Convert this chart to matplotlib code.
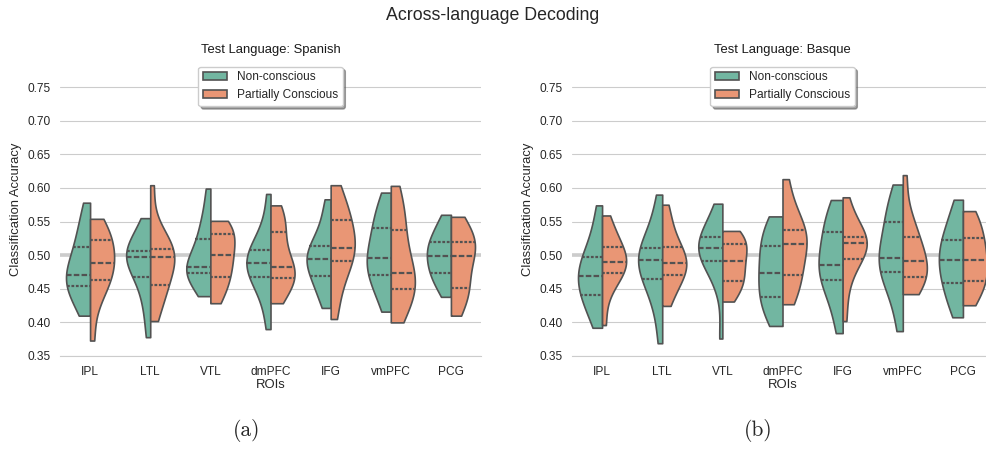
import matplotlib
matplotlib.use("Agg")
import matplotlib.pyplot as plt
from matplotlib.patches import Patch
import pandas as pd
import seaborn as sns

ROIS = ["IPL", "LTL", "VTL", "dmPFC", "IFG", "vmPFC", "PCG"]
CONDITIONS = ["Non-conscious", "Partially Conscious"]

# per-subject accuracies, one list per ROI (same order as ROIS)
spanish_nc = [
    [.410, .425, .445, .454, .460, .466, .471, .485, .500, .512, .530, .550, .578],
    [.378, .420, .445, .467, .480, .492, .4975, .500, .504, .5065, .520, .535, .555],
    [.439, .455, .468, .4737, .477, .480, .4831, .490, .510, .5233, .540, .560, .599],
    [.390, .430, .455, .467, .475, .482, .4886, .495, .502, .507, .520, .545, .591],
    [.4215, .440, .455, .469, .480, .489, .4945, .500, .508, .513, .530, .555, .583],
    [.416, .440, .460, .471, .480, .490, .496, .510, .525, .541, .555, .570, .593],
    [.438, .455, .466, .473, .482, .492, .499, .508, .515, .520, .532, .545, .560],
]
spanish_pc = [
    [.373, .430, .450, .463, .472, .480, .488, .500, .512, .522, .530, .540, .554],
    [.402, .430, .445, .455, .470, .485, .4965, .500, .505, .509, .520, .535, .604],
    [.4285, .445, .460, .468, .480, .492, .5005, .510, .522, .531, .540, .546, .551],
    [.4285, .445, .458, .466, .472, .477, .482, .492, .515, .534, .548, .560, .574],
    [.405, .440, .470, .491, .498, .505, .511, .525, .540, .552, .565, .580, .604],
    [.400, .420, .440, .449, .455, .465, .473, .490, .510, .538, .555, .575, .603],
    [.410, .430, .445, .451, .465, .485, .499, .508, .515, .520, .530, .545, .557],
]
basque_nc = [
    [.392, .415, .430, .441, .452, .462, .469, .480, .490, .4975, .515, .540, .574],
    [.369, .420, .445, .464, .475, .485, .4926, .500, .505, .510, .530, .555, .590],
    [.376, .450, .480, .4916, .498, .505, .510, .515, .522, .527, .540, .555, .5765],
    [.3947, .410, .425, .438, .450, .462, .474, .490, .505, .514, .530, .545, .5576],
    [.384, .420, .450, .463, .472, .480, .486, .505, .520, .534, .550, .565, .582],
    [.387, .430, .460, .475, .482, .490, .4955, .510, .530, .550, .565, .580, .605],
    [.4076, .425, .445, .458, .470, .482, .4926, .505, .515, .522, .540, .560, .5824],
]
basque_pc = [
    [.396, .445, .465, .474, .480, .485, .490, .498, .505, .512, .525, .540, .559],
    [.4245, .445, .460, .470, .478, .484, .489, .497, .505, .512, .530, .550, .575],
    [.431, .445, .455, .462, .470, .482, .491, .500, .510, .516, .525, .532, .536],
    [.427, .445, .460, .470, .485, .505, .517, .525, .532, .538, .550, .575, .613],
    [.402, .450, .480, .495, .505, .512, .518, .520, .524, .527, .540, .560, .586],
    [.442, .450, .460, .467, .475, .483, .491, .500, .512, .527, .540, .560, .619],
    [.4255, .440, .455, .462, .472, .482, .4926, .505, .515, .526, .540, .555, .5655],
]
YTICKS = [0.35, 0.40, 0.45, 0.50, 0.55, 0.60, 0.65, 0.70, 0.75]


def make_frame(nc, pc):
    rows = []
    for roi, a, b in zip(ROIS, nc, pc):
        rows += [(roi, CONDITIONS[0], v) for v in a]
        rows += [(roi, CONDITIONS[1], v) for v in b]
    return pd.DataFrame(rows, columns=["ROIs", "Condition", "Classification Accuracy"])


sns.set_style("whitegrid")
plt.rcParams["font.family"] = ["Liberation Sans", "DejaVu Sans"]

colors = [sns.desaturate(c, 0.75) for c in sns.color_palette("Set2", 2)]
edge = "0.32"

fig = plt.figure(figsize=(9.86, 4.53), dpi=100)
fig.suptitle("Across-language Decoding", fontsize=12.8, y=1 - 15 / 453, va="center")

panels = [
    ("Test Language: Spanish", spanish_nc, spanish_pc, 60, "(a)", 247),
    ("Test Language: Basque", basque_nc, basque_pc, 572, "(b)", 758),
]
for title, nc, pc, left_px, cap, cap_x in panels:
    ax = fig.add_axes([left_px / 986, 1 - 356 / 453, 421 / 986, 292.5 / 453])
    df = make_frame(nc, pc)
    ax.axhline(0.5, color="0.8", lw=2.6, zorder=0.5)
    sns.violinplot(data=df, x="ROIs", y="Classification Accuracy", hue="Condition",
                   split=True, inner="quart", cut=0, density_norm="width",
                   palette=colors, saturation=1, linewidth=1.2, linecolor=edge,
                   inner_kws=dict(linewidth=1.6), legend=False, ax=ax)
    ax.set_ylim(0.35, 0.785)
    ax.set_xlim(-0.5, 6.5)
    ax.set_yticks(YTICKS)
    ax.set_yticklabels([f"{t:.2f}" for t in YTICKS])
    ax.xaxis.grid(False)
    ax.tick_params(axis="both", length=0, pad=7, labelsize=8.6, colors="0.15")
    ax.set_xlabel("ROIs", fontsize=9.4, labelpad=1, color="0.15")
    ax.set_ylabel("Classification Accuracy", fontsize=9.4, labelpad=4, color="0.15")
    ax.set_title(title, fontsize=9.4, pad=7.5, color="0.1")
    sns.despine(ax=ax, left=True)
    handles = [Patch(facecolor=c, edgecolor=edge, linewidth=1.2, label=l)
               for c, l in zip(colors, CONDITIONS)]
    ax.legend(handles=handles, loc="upper center", bbox_to_anchor=(0.5, 0.989),
              borderaxespad=0, shadow=True, fontsize=8.6, frameon=True)
    fig.text(cap_x / 986, 1 - 430 / 453, cap, fontfamily="cmr10", fontsize=15.5,
             ha="center", va="center")

fig.savefig("out.png", dpi=100)
